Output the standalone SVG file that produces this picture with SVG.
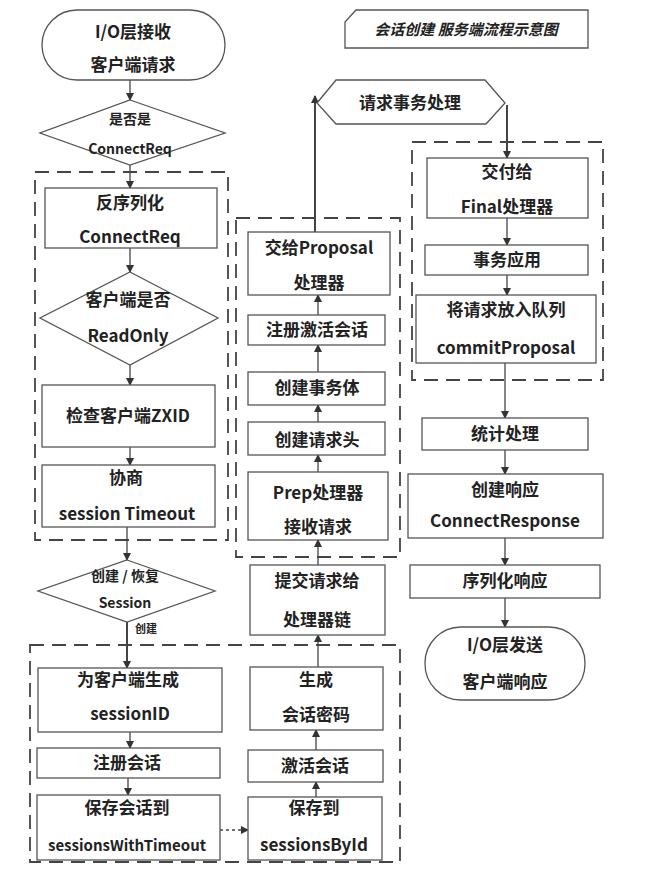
<svg xmlns="http://www.w3.org/2000/svg" width="648" height="886" viewBox="0 0 648 886">
<style>
.b{fill:#fff;stroke:#555;stroke-width:1.3}
.d{fill:none;stroke:#444;stroke-width:1.8;stroke-dasharray:14 8}
.t{font-family:"Noto Sans CJK SC","Liberation Sans",sans-serif;font-size:17px;font-weight:bold;fill:#222;text-anchor:middle}
.s{font-size:14px}
.c line,.c path{stroke:#444;stroke-width:1.3;fill:none}
</style>
<defs><marker id="a" markerWidth="8" markerHeight="8" refX="7" refY="4" orient="auto" markerUnits="userSpaceOnUse"><path d="M0,0L8,4L0,8z" fill="#333"/></marker></defs>
<rect width="648" height="886" fill="#fff"/>
<g id="frames">
<rect class="d" x="35" y="172" width="193" height="368"/>
<rect class="d" x="236" y="218" width="164" height="339"/>
<rect class="d" x="412" y="142" width="191" height="238"/>
<rect class="d" x="30" y="645" width="370" height="217"/>
</g>
<g class="c" id="connectors">
<line x1="130" y1="80" x2="130" y2="100" marker-end="url(#a)"/>
<line x1="130" y1="165" x2="130" y2="188" marker-end="url(#a)"/>
<line x1="130" y1="248" x2="130" y2="272" marker-end="url(#a)"/>
<line x1="130" y1="365" x2="130" y2="385" marker-end="url(#a)"/>
<line x1="130" y1="447" x2="130" y2="465" marker-end="url(#a)"/>
<line x1="127" y1="527" x2="127" y2="560" marker-end="url(#a)"/>
<line x1="127" y1="622" x2="127" y2="668" style="stroke-width:2" marker-end="url(#a)"/>
<line x1="130" y1="732" x2="130" y2="748" marker-end="url(#a)"/>
<line x1="128" y1="778" x2="128" y2="795" marker-end="url(#a)"/>
<line x1="220" y1="830" x2="248" y2="830" stroke-dasharray="3 3" marker-end="url(#a)"/>
<line x1="316" y1="797" x2="316" y2="782" marker-end="url(#a)"/>
<line x1="316" y1="750" x2="316" y2="730" marker-end="url(#a)"/>
<line x1="318" y1="667" x2="318" y2="635" marker-end="url(#a)"/>
<line x1="318" y1="565" x2="318" y2="540" marker-end="url(#a)"/>
<line x1="318" y1="472" x2="318" y2="455" marker-end="url(#a)"/>
<line x1="318" y1="422" x2="318" y2="405" marker-end="url(#a)"/>
<line x1="318" y1="372" x2="318" y2="345" marker-end="url(#a)"/>
<line x1="318" y1="315" x2="318" y2="295" marker-end="url(#a)"/>
<line x1="315" y1="232" x2="315" y2="96" style="stroke-width:2" marker-end="url(#a)"/>
<line x1="507" y1="105" x2="507" y2="158" style="stroke-width:2" marker-end="url(#a)"/>
<line x1="507" y1="218" x2="507" y2="245" marker-end="url(#a)"/>
<line x1="507" y1="275" x2="507" y2="295" marker-end="url(#a)"/>
<line x1="505" y1="363" x2="505" y2="418" marker-end="url(#a)"/>
<line x1="505" y1="450" x2="505" y2="474" marker-end="url(#a)"/>
<line x1="505" y1="538" x2="505" y2="565" marker-end="url(#a)"/>
<line x1="505" y1="598" x2="505" y2="627" marker-end="url(#a)"/>
</g>
<g id="title"><path class="b" d="M356,10H588V48H345V22z"/><text class="t" x="466" y="35" style="font-size:15px;font-style:italic">会话创建 服务端流程示意图</text></g>
<g id="n1"><rect class="b" x="42" y="10" width="183" height="70" rx="35"/><text class="t" x="133" y="38">I/O层接收</text><text class="t" x="133" y="71">客户端请求</text></g>
<g id="n2"><path class="b" d="M130,100L225,133L130,165L40,133z"/><text class="t s" x="130" y="124">是否是</text><text class="t s" x="130" y="154">ConnectReq</text></g>
<g id="n3"><rect class="b" x="45" y="188" width="172" height="60"/><text class="t" x="130" y="209">反序列化</text><text class="t" x="130" y="243">ConnectReq</text></g>
<g id="n4"><path class="b" d="M130,272L218,318L130,365L40,318z"/><text class="t" x="128" y="306">客户端是否</text><text class="t" x="128" y="342">ReadOnly</text></g>
<g id="n5"><rect class="b" x="42" y="385" width="173" height="62"/><text class="t" x="128" y="422">检查客户端ZXID</text></g>
<g id="n6"><rect class="b" x="42" y="465" width="173" height="62"/><text class="t" x="126" y="484">协商</text><text class="t" x="127" y="520">session Timeout</text></g>
<g id="n7"><path class="b" d="M127,560L215,591L127,622L38,591z"/><text class="t s" x="125" y="581">创建 / 恢复</text><text class="t s" x="125" y="608">Session</text><text class="t" x="146" y="633" style="font-size:11px">创建</text></g>
<g id="n8"><rect class="b" x="38" y="668" width="184" height="64"/><text class="t" x="128" y="686">为客户端生成</text><text class="t" x="130" y="720">sessionID</text></g>
<g id="n9"><rect class="b" x="37" y="748" width="183" height="30"/><text class="t" x="127" y="769">注册会话</text></g>
<g id="n10"><rect class="b" x="37" y="795" width="183" height="65"/><text class="t" x="127" y="814">保存会话到</text><text class="t" x="127" y="851" style="font-size:15px">sessionsWithTimeout</text></g>
<g id="n11"><rect class="b" x="248" y="797" width="134" height="63"/><text class="t" x="314" y="814">保存到</text><text class="t" x="314" y="851">sessionsById</text></g>
<g id="n12"><rect class="b" x="248" y="750" width="135" height="32"/><text class="t" x="315" y="772">激活会话</text></g>
<g id="n13"><rect class="b" x="250" y="667" width="133" height="63"/><text class="t" x="316" y="686">生成</text><text class="t" x="316" y="721">会话密码</text></g>
<g id="n14"><rect class="b" x="250" y="565" width="135" height="70"/><text class="t" x="317" y="587">提交请求给</text><text class="t" x="317" y="626">处理器链</text></g>
<g id="n15"><rect class="b" x="248" y="472" width="140" height="68"/><text class="t" x="318" y="499">Prep处理器</text><text class="t" x="318" y="533">接收请求</text></g>
<g id="n16"><rect class="b" x="248" y="422" width="137" height="33"/><text class="t" x="317" y="446">创建请求头</text></g>
<g id="n17"><rect class="b" x="248" y="372" width="137" height="33"/><text class="t" x="317" y="394">创建事务体</text></g>
<g id="n18"><rect class="b" x="248" y="315" width="137" height="30"/><text class="t" x="317" y="336">注册激活会话</text></g>
<g id="n19"><rect class="b" x="248" y="232" width="142" height="63"/><text class="t" x="319" y="254">交给Proposal</text><text class="t" x="319" y="289">处理器</text></g>
<g id="n20"><path class="b" d="M317,103L336,80H485L505,103L486,124H336z"/><text class="t" x="410" y="109">请求事务处理</text></g>
<g id="n21"><rect class="b" x="427" y="158" width="161" height="60"/><text class="t" x="507" y="178">交付给</text><text class="t" x="507" y="213">Final处理器</text></g>
<g id="n22"><rect class="b" x="425" y="245" width="163" height="30"/><text class="t" x="507" y="266">事务应用</text></g>
<g id="n23"><rect class="b" x="416" y="295" width="180" height="68"/><text class="t" x="506" y="316">将请求放入队列</text><text class="t" x="506" y="354">commitProposal</text></g>
<g id="n24"><rect class="b" x="422" y="418" width="166" height="32"/><text class="t" x="505" y="440">统计处理</text></g>
<g id="n25"><rect class="b" x="408" y="474" width="195" height="64"/><text class="t" x="505" y="496">创建响应</text><text class="t" x="505" y="527">ConnectResponse</text></g>
<g id="n26"><rect class="b" x="410" y="565" width="190" height="33"/><text class="t" x="505" y="587">序列化响应</text></g>
<g id="n27"><rect class="b" x="425" y="627" width="160" height="73" rx="36"/><text class="t" x="505" y="651">I/O层发送</text><text class="t" x="505" y="688">客户端响应</text></g>
</svg>
